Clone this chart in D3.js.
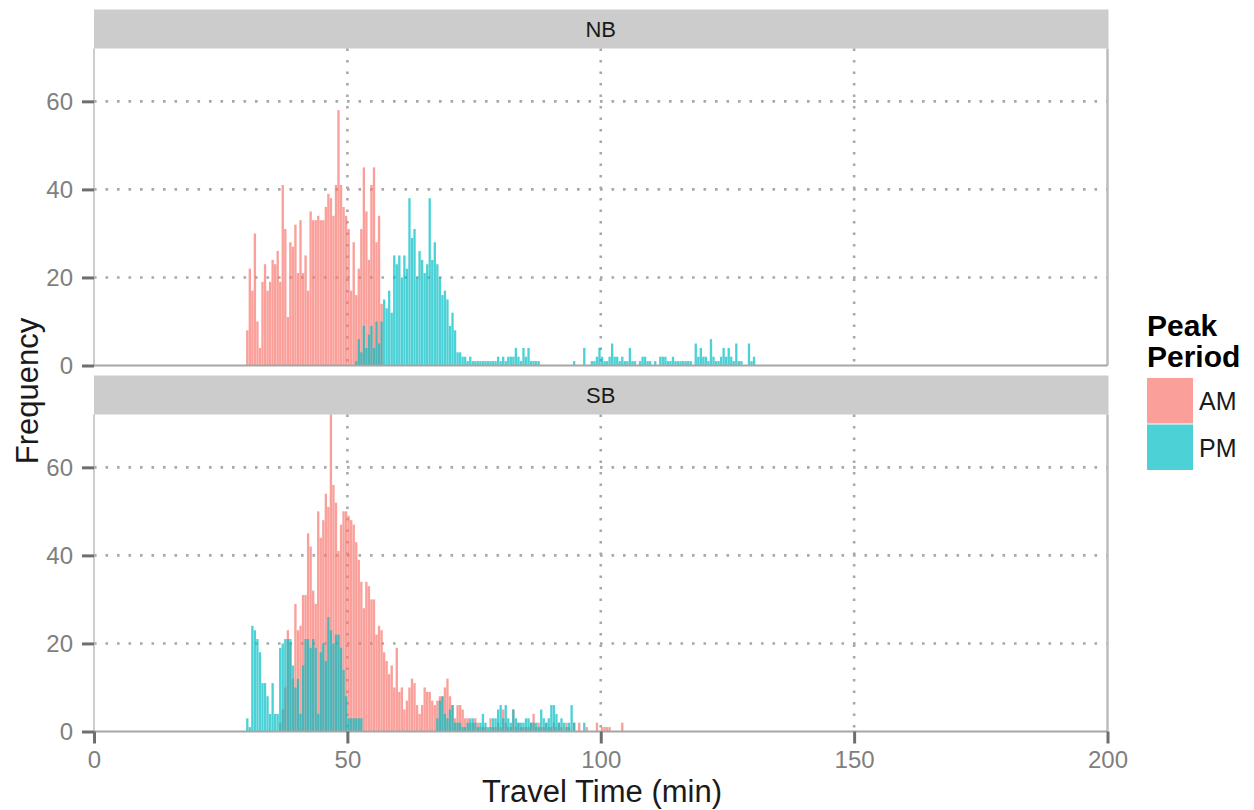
<!DOCTYPE html>
<html>
<head>
<meta charset="utf-8">
<script src="https://cdn.jsdelivr.net/npm/d3@7"></script>
<style>
  body { margin: 0; background: #fff; }
  svg { font-family: 'Liberation Sans', Arial, sans-serif; }
</style>
</head>
<body>
<div id="chart"></div>
<script>
// travel time histograms, counts per 0.5 min bin
const binWidth = 0.5;
const directions = ['NB', 'SB'];
const periods = ['AM', 'PM'];
const xTicks = [0, 50, 100, 150, 200];
const yTicks = [0, 20, 40, 60];

const nbAmStart = 30;
const nbAmCounts = [8, 22, 17, 30, 10, 4, 19, 23, 17, 19, 24, 23, 26, 19, 41, 31, 11, 28, 27, 32,
  21, 33, 21, 25, 17, 35, 33, 33, 34, 33, 33, 36, 39, 38, 34, 41, 58, 41, 36, 34,
  31, 17, 28, 16, 22, 31, 45, 35, 24, 41, 45, 28, 34, 14];

const nbPmStart = 51.5;
const nbPmCounts = [1, 6, 3, 9, 4, 7, 9, 4, 10, 5,
  10, 15, 13, 17, 12, 25, 23, 25, 20, 25,
  22, 38, 29, 31, 20, 26, 24, 21, 23, 38,
  24, 28, 23, 20, 16, 17, 15, 9, 12, 8,
  3, 3, 2, 2, 1, 2, 1, 1, 1, 1,
  1, 1, 1, 1, 1, 1, 2, 1, 2, 1,
  2, 2, 2, 4, 2, 1, 4, 2, 4, 1,
  1, 1, 1, 0, 0, 0, 0, 0, 0, 0,
  0, 0, 0, 0, 0, 0, 1, 0, 0, 0,
  4, 0, 0, 1, 1, 2, 4, 2, 1, 1,
  2, 5, 2, 2, 1, 2, 1, 1, 4, 1,
  1, 0, 1, 2, 2, 1, 1, 0, 1, 0,
  2, 2, 2, 1, 1, 2, 1, 1, 1, 1,
  1, 1, 1, 0, 5, 2, 4, 2, 2, 1,
  6, 2, 1, 1, 2, 4, 2, 4, 2, 1,
  5, 1, 1, 0, 0, 5, 1, 2];

const sbAmStart = 36.5;
const sbAmCounts = [2, 5, 10, 23, 20, 12, 29, 23, 24, 31,
  31, 45, 42, 32, 29, 50, 44, 48, 54, 51,
  72, 56, 52, 41, 47, 50, 50, 49, 48, 47,
  43, 39, 34, 28, 34, 33, 30, 30, 22, 24,
  23, 18, 16, 13, 15, 10, 19, 9, 10, 5,
  7, 10, 12, 11, 6, 4, 6, 10, 9, 9,
  7, 6, 7, 8, 8, 10, 12, 8, 6, 3,
  6, 6, 5, 3, 3, 2, 2, 3, 2, 1,
  1, 1, 0, 3, 1, 1, 2, 1, 5, 2,
  1, 1, 5, 1, 2, 1, 1, 1, 1, 2,
  4, 1, 2, 1, 1, 2, 1, 1, 2, 1,
  2, 1, 0, 2, 1, 0, 2, 0, 2, 0,
  0, 1, 0, 0, 0, 2, 0, 1, 1, 1,
  1, 0, 0, 0, 0, 2];

const sbPmStart = 30;
const sbPmCounts = [3, 1, 24, 23, 21, 18, 11, 11, 8, 4,
  11, 4, 4, 19, 20, 21, 21, 21, 15, 10,
  12, 4, 15, 21, 21, 19, 21, 19, 4, 18,
  20, 16, 26, 23, 20, 22, 22, 19, 14, 8,
  3, 3, 3, 3, 3, 3, 0, 0, 0, 0,
  0, 0, 0, 0, 0, 0, 0, 0, 0, 0,
  0, 0, 0, 0, 0, 0, 0, 0, 0, 0,
  0, 0, 0, 0, 0, 3, 7, 8, 4, 3,
  5, 6, 2, 2, 2, 1, 1, 2, 3, 3,
  2, 1, 2, 4, 2, 1, 1, 3, 3, 5,
  6, 3, 6, 3, 2, 5, 3, 2, 2, 2,
  3, 3, 2, 2, 2, 1, 5, 3, 2, 3,
  6, 6, 4, 2, 3, 2, 1, 2, 6, 2,
  0, 0, 0, 2];

const series = [
  { dir: 'NB', period: 'AM', start: nbAmStart, counts: nbAmCounts },
  { dir: 'NB', period: 'PM', start: nbPmStart, counts: nbPmCounts },
  { dir: 'SB', period: 'AM', start: sbAmStart, counts: sbAmCounts },
  { dir: 'SB', period: 'PM', start: sbPmStart, counts: sbPmCounts }
];

const width = 1254;
const height = 810;
const left = 94;
const right = 1107.5;
const top0 = 9.5;
const stripH = 39;
const panelH = 317;
const gap = 10;
const fontStack = "'Liberation Sans', Arial, sans-serif";

const color = d3.scaleOrdinal().domain(periods).range(['#F8766D', '#00BFC4']);
const alpha = 0.7;

const svg = d3
  .select('#chart')
  .append('svg')
  .attr('width', width)
  .attr('height', height);

const x = d3.scaleLinear().domain([0, 200]).range([left, right]);

directions.forEach((dir, p) => {
  const stripTop = top0 + p * (stripH + panelH + gap);
  const panelTop = stripTop + stripH;
  const panelBottom = panelTop + panelH;
  const y = d3.scaleLinear().domain([0, 72]).range([panelBottom, panelTop]);
  const g = svg.append('g');

  //strip
  g.append('rect')
    .attr('x', left)
    .attr('y', stripTop)
    .attr('width', right - left + 1)
    .attr('height', stripH)
    .attr('fill', '#cccccc');
  g.append('text')
    .attr('x', (left + right) / 2)
    .attr('y', stripTop + stripH / 2)
    .attr('text-anchor', 'middle')
    .attr('dominant-baseline', 'central')
    .style('font-size', '22px')
    .style('fill', '#1a1a1a')
    .text(dir);

  //dotted grid
  g.selectAll('.hgrid')
    .data(yTicks.filter(d => d > 0))
    .enter()
    .append('line')
    .attr('x1', left)
    .attr('x2', right)
    .attr('y1', d => y(d))
    .attr('y2', d => y(d))
    .attr('stroke', '#a8a8a8')
    .attr('stroke-width', 2.6)
    .attr('stroke-dasharray', '2.6,8.9');
  g.selectAll('.vgrid')
    .data(xTicks.filter(d => d > 0 && d < 200))
    .enter()
    .append('line')
    .attr('x1', d => x(d))
    .attr('x2', d => x(d))
    .attr('y1', panelTop)
    .attr('y2', panelBottom)
    .attr('stroke', '#a8a8a8')
    .attr('stroke-width', 2.6)
    .attr('stroke-dasharray', '2.6,8.9');

  //bars, AM first so PM sits on top
  periods.forEach(per => {
    const s = series.find(d => d.dir === dir && d.period === per);
    const bins = s.counts
      .map((n, i) => ({ x0: s.start + i * binWidth, x1: s.start + (i + 1) * binWidth, n: n }))
      .filter(b => b.n > 0);
    g.selectAll('.bar-' + per)
      .data(bins)
      .enter()
      .append('rect')
      .attr('x', d => x(d.x0) + 0.1)
      .attr('width', d => x(d.x1) - x(d.x0) - 0.2)
      .attr('y', d => y(d.n))
      .attr('height', d => y(0) - y(d.n))
      .attr('fill', color(per))
      .attr('fill-opacity', alpha);
  });

  //panel border
  g.append('line')
    .attr('x1', left).attr('x2', left)
    .attr('y1', panelTop).attr('y2', panelBottom)
    .attr('stroke', '#bdbdbd').attr('stroke-width', 1.5);
  g.append('line')
    .attr('x1', right).attr('x2', right)
    .attr('y1', panelTop).attr('y2', panelBottom)
    .attr('stroke', '#bdbdbd').attr('stroke-width', 2.5);
  g.append('line')
    .attr('x1', left).attr('x2', right)
    .attr('y1', panelBottom).attr('y2', panelBottom)
    .attr('stroke', '#a6a6a6').attr('stroke-width', 2);

  //y axis
  const yAxis = g
    .append('g')
    .attr('transform', `translate(${left},0)`)
    .call(d3.axisLeft(y).tickValues(yTicks).tickSize(12).tickPadding(9));
  yAxis.select('.domain').remove();
  yAxis.selectAll('line').attr('stroke', '#6e6e6e').attr('stroke-width', 3);
  yAxis.selectAll('text')
    .style('font-size', '24px')
    .style('font-family', fontStack)
    .attr('fill', '#7f7f7f');

  //x axis on the bottom panel only
  if (p === directions.length - 1) {
    const xAxis = g
      .append('g')
      .attr('transform', `translate(0,${panelBottom})`)
      .call(d3.axisBottom(x).tickValues(xTicks).tickSize(12).tickPadding(7));
    xAxis.select('.domain').remove();
    xAxis.selectAll('line').attr('stroke', '#6e6e6e').attr('stroke-width', 3);
    xAxis.selectAll('text')
      .style('font-size', '24px')
      .style('font-family', fontStack)
      .attr('fill', '#7f7f7f');
  }
});

//axis titles
svg.append('text')
  .attr('x', 602)
  .attr('y', 802)
  .attr('text-anchor', 'middle')
  .style('font-size', '31px')
  .style('fill', '#1a1a1a')
  .text('Travel Time (min)');

svg.append('text')
  .attr('transform', 'translate(38,391)rotate(-90)')
  .attr('text-anchor', 'middle')
  .style('font-size', '31px')
  .style('fill', '#1a1a1a')
  .text('Frequency');

//legend
const legend = svg.append('g').attr('transform', 'translate(1147,0)');
legend.append('text')
  .attr('x', 0)
  .attr('y', 336)
  .style('font-size', '30px')
  .style('font-weight', 'bold')
  .text('Peak');
legend.append('text')
  .attr('x', 0)
  .attr('y', 367)
  .style('font-size', '30px')
  .style('font-weight', 'bold')
  .text('Period');

legend.selectAll('.key')
  .data(periods)
  .enter()
  .append('rect')
  .attr('x', 0)
  .attr('y', (d, i) => 378 + i * 46.5)
  .attr('width', 46)
  .attr('height', 45.5)
  .attr('fill', d => color(d))
  .attr('fill-opacity', alpha);

legend.selectAll('.keylabel')
  .data(periods)
  .enter()
  .append('text')
  .attr('x', 52)
  .attr('y', (d, i) => 401 + i * 46.5)
  .attr('dominant-baseline', 'central')
  .style('font-size', '25px')
  .style('fill', '#1a1a1a')
  .text(d => d);
</script>
</body>
</html>
